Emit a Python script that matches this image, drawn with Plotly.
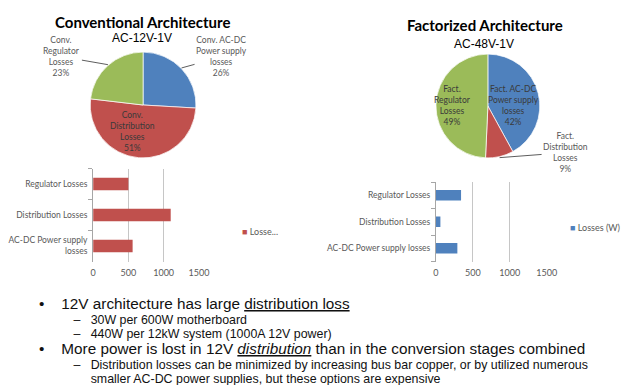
import math
import plotly.graph_objects as go

W, H = 636, 385

# ---------------- data ----------------
categories = ["AC-DC Power supply losses", "Distribution Losses", "Regulator Losses"]
left_tick_labels = ["AC-DC Power supply<br>losses", "Distribution Losses", "Regulator Losses"]
right_tick_labels = ["AC-DC Power supply losses", "Distribution Losses", "Regulator Losses"]
conv_losses = [560, 1100, 500]   # W, conventional AC-12V-1V
fact_losses = [290, 60, 340]     # W, factorized AC-48V-1V
conv_pie_labels = ["Conv. AC-DC<br>Power supply<br>losses", "Conv.<br>Distribution<br>Losses",
                   "Conv.<br>Regulator<br>Losses"]
fact_pie_labels = ["Fact. AC-DC<br>Power supply<br>losses", "Fact.<br>Distribution<br>Losses",
                   "Fact.<br>Regulator<br>Losses"]
x_ticks = [0, 500, 1000, 1500]
left_legend_name = "Losse..."
right_legend_name = "Losses (W)"
bullet_points = [
    (1, "12V architecture has large <u>distribution loss</u>"),
    (2, "30W per 600W motherboard"),
    (2, "440W per 12kW system (1000A 12V power)"),
    (1, "More power is lost in 12V <u><i>distribution</i></u> than in the conversion stages combined"),
    (2, "Distribution losses can be minimized by increasing bus bar copper, or by utilized numerous"),
    (3, "smaller AC-DC power supplies, but these options are expensive"),
]

# ---------------- style ----------------
slice_colors = ["#4F81BD", "#C0504D", "#9BBB59"]
CAL = "Lato, 'Liberation Sans', sans-serif"
ARIAL = "'Liberation Sans', Arial, sans-serif"
GRAY = "#595959"
NB = "\u00a0"


def px(x):
    return x / W


def py(y):
    return 1 - y / H


def pie_domain(cx, cy, r):
    return dict(x=[px(cx - r), px(cx + r)], y=[py(cy + r), py(cy - r)])


fig = go.Figure()

LEFT_PIE = (143, 105, 54)
RIGHT_PIE = (495, 106, 53)

for vals, labs, (cx, cy, r) in [(conv_losses, conv_pie_labels, LEFT_PIE),
                                (fact_losses, fact_pie_labels, RIGHT_PIE)]:
    fig.add_trace(go.Pie(values=vals, labels=labs, sort=False, direction="clockwise", rotation=0,
                         textinfo="none", hoverinfo="label+percent", showlegend=False,
                         marker=dict(colors=slice_colors, line=dict(color="rgba(255,255,255,0.7)", width=1)),
                         domain=pie_domain(cx, cy, r)))

fig.add_trace(go.Bar(x=conv_losses, y=categories, orientation="h", marker_color=slice_colors[1],
                     marker_line_width=0, name=left_legend_name, showlegend=False,
                     xaxis="x", yaxis="y"))
fig.add_trace(go.Bar(x=fact_losses, y=categories, orientation="h", marker_color=slice_colors[0],
                     marker_line_width=0, name=right_legend_name, showlegend=False,
                     xaxis="x2", yaxis="y2"))

annotations = []


def pie_labels(values, labels, center, styles):
    cx, cy, r = center
    total = float(sum(values))
    cum = 0.0
    out = []
    for v, lab, st in zip(values, labels, styles):
        mid = (cum + v / 2.0) / total * 2 * math.pi
        cum += v
        dx, dy = math.sin(mid), -math.cos(mid)
        text = f"{lab}<br>{round(v / total * 100)}%"
        if st[0] == "in":
            k, sx, sy = st[1:]
            out.append(dict(x=px(cx + k * r * dx + sx), y=py(cy + k * r * dy + sy),
                            xanchor="center", yanchor="middle",
                            text=text, showarrow=False, align="center",
                            font=dict(family=CAL, size=8.5, color="#3a3a3a")))
        else:
            ax, ay = st[1:]
            out.append(dict(x=px(cx + r * dx), y=py(cy + r * dy),
                            xanchor="center", yanchor="middle",
                            ax=ax, ay=ay, text=text, showarrow=True, arrowhead=0, arrowwidth=0.8,
                            arrowcolor="#333333", standoff=0, align="center",
                            font=dict(family=CAL, size=8.5, color=GRAY)))
    return out


annotations += pie_labels(conv_losses, conv_pie_labels, LEFT_PIE,
                          [("out", 40, -11), ("in", 0.5, -8, 0), ("out", -46, -8)])
annotations += pie_labels(fact_losses, fact_pie_labels, RIGHT_PIE,
                          [("in", 0.5, 0, 6), ("out", 66, -5), ("in", 0.68, 0, 0)])

# titles
annotations += [
    dict(x=px(142), y=py(22), text="<b>Conventional Architecture</b>", showarrow=False,
         font=dict(family=CAL, size=15, color="#000")),
    dict(x=px(142), y=py(38), text="AC-12V-1V", showarrow=False,
         font=dict(family=ARIAL, size=12, color="#000")),
    dict(x=px(492), y=py(25), text="<b>Factorized Architecture</b>", showarrow=False,
         font=dict(family=CAL, size=15, color="#000")),
    dict(x=px(491), y=py(44), text="AC-48V-1V", showarrow=False,
         font=dict(family=ARIAL, size=12, color="#000")),
]

# legends
annotations += [
    dict(x=px(242), y=py(231), xanchor="left",
         text=f"<span style='color:{slice_colors[1]}'>■</span> {left_legend_name}",
         showarrow=False, font=dict(family=CAL, size=9, color=GRAY)),
    dict(x=px(577), y=py(227), xanchor="left",
         text=f"<span style='color:{slice_colors[0]}'>■</span> {right_legend_name}",
         showarrow=False, font=dict(family=CAL, size=9, color=GRAY)),
]

# bullet text: one text box per top-level bullet (with its sub-items)
BIG, SMALL = 15.3, 12.4
LINE_GAP = 14.5          # baseline spacing inside a block
BLOCK_GAP = 16.6         # spacing between the last line of a block and the next bullet
FIRST_ROW = 302          # visual centre of first bullet row (px)
level_fmt = {
    1: (BIG, "•" + NB * 4),
    2: (SMALL, NB * 10 + "–" + NB * 3),
    3: (SMALL, NB * 15),
}
blocks = []
for lvl, t in bullet_points:
    if lvl == 1 or not blocks:
        blocks.append([])
    size, prefix = level_fmt[lvl]
    blocks[-1].append(f"<span style='font-size:{size}px'>{prefix}{t}</span>")

row = FIRST_ROW
for i, blk in enumerate(blocks):
    if i > 0:
        row += BLOCK_GAP
    top = row - 0.555 * BIG      # top of the first (big) line's box
    annotations.append(dict(x=px(36), y=py(top), xanchor="left", yanchor="top", align="left",
                            text="<br>".join(blk), showarrow=False, borderpad=0,
                            font=dict(family=ARIAL, size=LINE_GAP / 1.3, color="#111")))
    row += LINE_GAP * (len(blk) - 1)

for a in annotations:
    a.setdefault("xref", "paper")
    a.setdefault("yref", "paper")
    a.setdefault("xanchor", "center")
    a.setdefault("yanchor", "middle")

axis_common = dict(range=[0, 1500], tickvals=x_ticks, showgrid=True, gridcolor="#C6C6C6",
                   gridwidth=1, zeroline=False, showline=False, ticks="", ticklabelstandoff=4,
                   tickfont=dict(family=CAL, size=9, color=GRAY), fixedrange=True)
yaxis_common = dict(type="category", tickvals=categories, showline=True, linecolor="#A6A6A6",
                    linewidth=1, ticks="outside", ticklen=4, tickcolor="#A6A6A6",
                    tickson="boundaries", showgrid=False, ticklabelstandoff=3,
                    tickfont=dict(family=CAL, size=8.5, color=GRAY), fixedrange=True)

fig.update_layout(
    width=W, height=H, margin=dict(l=0, r=0, t=0, b=0),
    paper_bgcolor="white", plot_bgcolor="white",
    bargap=0.6, showlegend=False,
    xaxis=dict(domain=[px(92), px(200)], anchor="y", **axis_common),
    yaxis=dict(domain=[py(261.5), py(168.5)], anchor="x", ticktext=left_tick_labels, **yaxis_common),
    xaxis2=dict(domain=[px(442), px(555)], anchor="y2", **axis_common),
    yaxis2=dict(domain=[py(261.5), py(182)], anchor="x2", ticktext=right_tick_labels, **yaxis_common),
    annotations=annotations,
)

fig.write_html("out.html", config={"displayModeBar": False},
               post_script="document.body.style.margin='0';document.body.style.overflow='hidden';")
